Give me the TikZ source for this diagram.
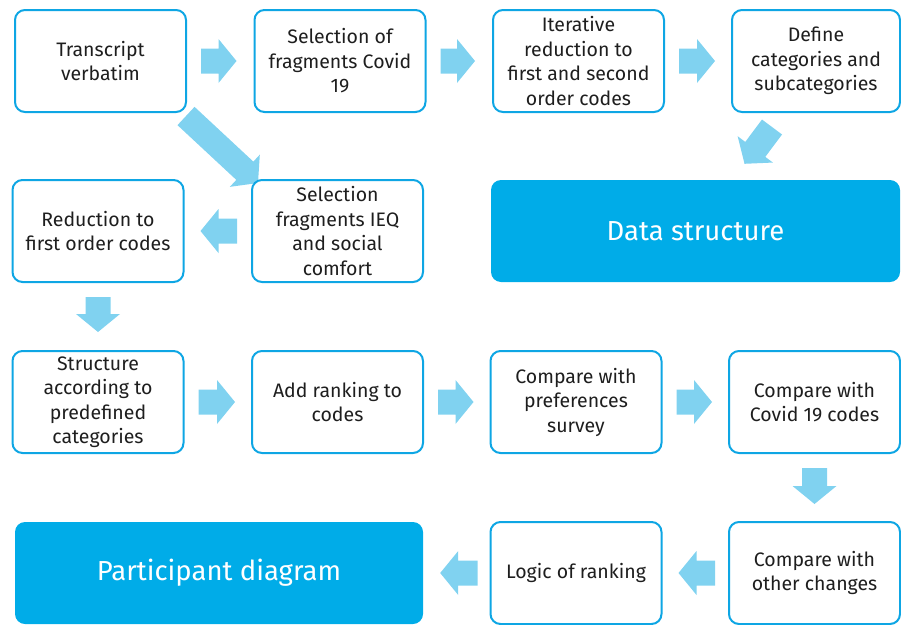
\documentclass[tikz,border=0pt]{standalone}
\usepackage{fontspec}
\setmainfont{Fira Sans}
\newfontfamily\headfont{Fira Sans}
\usetikzlibrary{calc,backgrounds}

\definecolor{edgeblue}{RGB}{14,166,228}
\definecolor{solidblue}{RGB}{0,172,232}
\definecolor{arrowblue}{RGB}{128,210,240}
\definecolor{txt}{RGB}{30,30,30}

\tikzset{
  stepbox/.style={draw=edgeblue, line width=2pt, rounded corners=10pt, fill=white,
    minimum width=171pt, minimum height=102pt, align=center, text=txt,
    inner sep=0pt, font=\fontsize{19.5}{24.5}\selectfont},
  headbox/.style={fill=solidblue, rounded corners=10pt, minimum height=102pt,
    text=white, inner sep=0pt, font=\fontsize{27.5}{30}\headfont}
}

% wide block arrow from #1 to #2, leaving gaps #3 and #4 at the two ends
\newcommand\flowarrow[4]{%
  \coordinate (fa-p) at ($(#1)!#3!(#2)$);
  \coordinate (fa-q) at ($(#2)!#4!(#1)$);
  \coordinate (fa-h) at ($(fa-q)!18pt!(fa-p)$);
  \fill[arrowblue]
    ($(fa-p)!12.5pt!90:(fa-q)$) -- ($(fa-h)!12.5pt!-90:(fa-p)$) --
    ($(fa-h)!22pt!-90:(fa-p)$) -- (fa-q) --
    ($(fa-h)!22pt!90:(fa-p)$) -- ($(fa-h)!12.5pt!90:(fa-p)$) --
    ($(fa-p)!12.5pt!-90:(fa-q)$) -- cycle;}

\begin{document}
\begin{tikzpicture}[x=1pt,y=-1pt]
\useasboundingbox (0,0) rectangle (901,624);

% first row
\node[stepbox] (A) at (100.5,61) {Transcript\\verbatim};
\node[stepbox] (B) at (340,61) {Selection of\\fragments Covid\\19};
\node[stepbox] (C) at (578.5,61) {Iterative\\reduction to\\first and second\\order codes};
\node[stepbox, minimum width=168pt] (D) at (816,61) {Define\\categories and\\subcategories};

% second row
\node[stepbox] (E) at (98,231) {Reduction to\\first order codes};
\node[stepbox] (F) at (337.5,231) {Selection\\fragments IEQ\\and social\\comfort};
\node[headbox, minimum width=409pt] (DS) at (695.5,231) {Data structure};

% third row
\node[stepbox] (G) at (98,402) {Structure\\according to\\predefined\\categories};
\node[stepbox] (H) at (337.5,402) {Add ranking to\\codes};
\node[stepbox] (I) at (576,402) {Compare with\\preferences\\survey};
\node[stepbox] (J) at (814.5,402) {Compare with\\Covid 19 codes};

% fourth row
\node[headbox, minimum width=408pt] (PD) at (219,573) {Participant diagram};
\node[stepbox] (L) at (576,573) {Logic of ranking};
\node[stepbox] (K) at (814.5,573) {Compare with\\other changes};

\begin{pgfonlayer}{background}
  \flowarrow{A.east}{B.west}{14pt}{17pt}
  \flowarrow{B.east}{C.west}{14pt}{17pt}
  \flowarrow{C.east}{D.west}{14pt}{16pt}
  \coordinate (d-tail) at ($(D.south)+(-44,14)$);
  \coordinate (ds-tip) at ($(DS.north)+(49,-16)$);
  \flowarrow{d-tail}{ds-tip}{0pt}{0pt}
  \coordinate (a-tail) at ($(A.south east)+(-1,3)$);
  \coordinate (f-tip) at ($(F.north west)+(7,4)$);
  \flowarrow{a-tail}{f-tip}{0pt}{0pt}
  \flowarrow{F.west}{E.east}{14pt}{16pt}
  \flowarrow{E.south}{G.north}{14pt}{18pt}
  \flowarrow{G.east}{H.west}{14pt}{16pt}
  \flowarrow{H.east}{I.west}{14pt}{16pt}
  \flowarrow{I.east}{J.west}{14pt}{16pt}
  \flowarrow{J.south}{K.north}{14pt}{17pt}
  \flowarrow{K.west}{L.east}{13pt}{16pt}
  \flowarrow{L.west}{PD.east}{12pt}{17pt}
\end{pgfonlayer}
\end{tikzpicture}
\end{document}
